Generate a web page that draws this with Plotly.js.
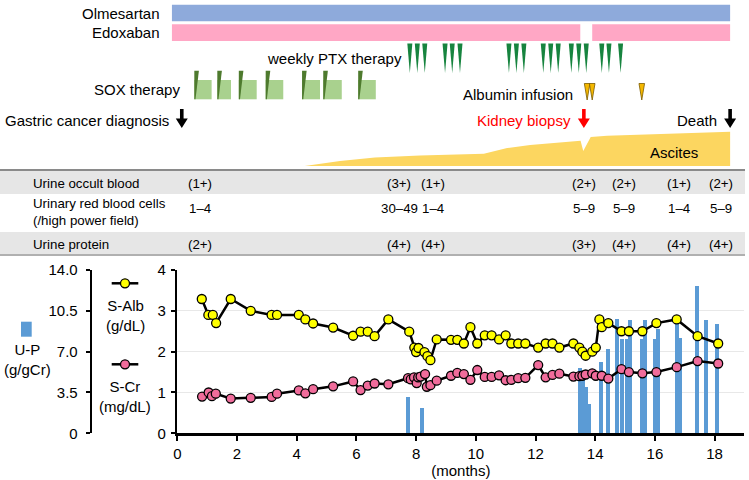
<!DOCTYPE html>
<html><head><meta charset="utf-8">
<script src="https://cdn.plot.ly/plotly-3.0.1.min.js"></script>
<style>body{margin:0;background:#fff}#chart{width:749px;height:480px}</style>
</head><body><div id="chart"></div>
<script>
// ---------------- data ----------------
const albMonths = [0.82,1.04,1.19,1.30,1.79,2.46,3.16,3.34,4.07,4.29,4.55,5.22,5.89,6.14,6.38,6.61,7.07,7.77,7.94,8.00,8.08,8.28,8.38,8.48,8.69,9.17,9.38,9.60,9.82,10.05,10.30,10.53,10.78,11.00,11.19,11.42,11.66,12.09,12.34,12.57,12.80,13.27,13.47,13.57,13.68,13.90,14.02,14.14,14.22,14.44,14.88,15.13,15.58,16.05,16.73,17.43,18.12];
const albValues = [3.29,2.90,2.90,2.70,3.29,3.00,2.90,2.90,2.90,2.79,2.69,2.59,2.39,2.49,2.49,2.38,2.79,2.49,2.10,1.99,2.09,1.99,1.89,1.79,2.30,2.29,2.29,2.20,2.60,2.20,2.40,2.40,2.30,2.40,2.20,2.20,2.20,2.10,2.20,2.20,2.10,2.20,2.10,2.00,1.90,2.00,2.10,2.79,2.60,2.70,2.50,2.50,2.50,2.70,2.79,2.38,2.20];
const crMonths = [0.83,1.05,1.16,1.29,1.79,2.46,3.16,3.34,4.07,4.29,4.55,5.22,5.89,6.14,6.38,6.61,7.07,7.73,7.82,7.93,8.02,8.07,8.15,8.30,8.36,8.48,8.69,9.17,9.38,9.60,9.82,10.05,10.30,10.53,10.78,11.00,11.19,11.42,11.66,12.09,12.34,12.57,12.80,13.27,13.47,13.57,13.68,13.90,14.02,14.22,14.44,14.88,15.13,15.58,16.05,16.73,17.43,18.12];
const crValues = [0.90,1.00,0.91,0.97,0.85,0.87,0.89,0.97,1.05,0.98,1.08,1.15,1.27,1.06,1.17,1.22,1.20,1.35,1.32,1.37,1.23,1.37,1.39,1.45,1.14,1.18,1.29,1.41,1.48,1.45,1.31,1.55,1.38,1.38,1.42,1.30,1.31,1.35,1.36,1.67,1.37,1.43,1.46,1.39,1.40,1.41,1.44,1.47,1.41,1.41,1.34,1.57,1.50,1.47,1.50,1.62,1.77,1.71];
const upMonths = [7.74,8.20,13.50,13.60,13.68,13.78,14.20,14.44,14.72,14.90,15.05,15.18,15.56,15.66,15.99,16.10,16.73,16.85,17.42,17.72,18.09];
const upValues = [3.1,2.2,5.6,4.7,4.0,2.5,6.1,7.2,9.8,8.1,8.1,9.7,8.1,9.7,8.1,8.9,9.4,8.2,12.6,9.7,9.4];

const olmesartanPeriods = [[-0.18,18.52]];
const edoxabanPeriods = [[-0.18,13.50],[13.90,18.52]];
const ptxDoses = [7.79,8.04,8.29,8.97,9.21,9.47,11.11,11.36,11.61,12.26,12.51,12.76,13.20,13.45,13.70,14.22,14.46,14.85];
const soxStarts = [0.57,1.34,2.06,2.96,4.18,4.89,6.06];
const soxEnds = [1.15,1.80,2.66,3.55,4.78,5.51,6.65];
const albuminInfusions = [13.73,13.90,15.56];
const ascitesMonths = [4.27,5.45,6.62,8.13,10.27,11.05,11.82,13.51,13.60,13.85,14.40,18.52,18.52];
const ascitesLevel = [0,5,8.5,10.5,12.3,18,21,25.3,15,29,30.3,34.3,0];
const eventLabels = ['Gastric cancer diagnosis','Kidney biopsy','Death'];
const eventMonths = [0.15,13.62,18.52];

const urineMonths = [0.76,7.43,8.56,13.62,14.96,16.80,18.20];
const occultBlood = ['(1+)','(3+)','(1+)','(2+)','(2+)','(1+)','(2+)'];
const urineRBC = ['1–4','30–49','1–4','5–9','5–9','1–4','5–9'];
const urineProtein = ['(2+)','(4+)','(4+)','(3+)','(4+)','(4+)','(4+)'];

const xTicks = [0,2,4,6,8,10,12,14,16,18];
const upTicks = [0,3.5,7,10.5,14];
const upTickText = ['0','3.5','7.0','10.5','14.0'];

// ---------------- layout constants ----------------
const W=749,H=480;
const X0=177.3, PXM=29.85, XMAX=19;
const px=x=>x/W, py=y=>1-y/H;
const FONT='Liberation Sans, Arial, sans-serif';
const BLACK='#000';

const traces = [];
traces.push({type:'bar', x:upMonths, y:upValues, xaxis:'x', yaxis:'y', width:0.13,
  marker:{color:'#5B9BD5', line:{width:0}}, hoverinfo:'x+y', showlegend:false});
traces.push({type:'scatter', mode:'lines+markers', x:albMonths, y:albValues, xaxis:'x', yaxis:'y2',
  line:{color:BLACK,width:2.5}, marker:{size:9,color:'#FFFF00',line:{color:BLACK,width:1.3}}, showlegend:false, cliponaxis:false});
traces.push({type:'scatter', mode:'lines+markers', x:crMonths, y:crValues, xaxis:'x', yaxis:'y2',
  line:{color:BLACK,width:2.5}, marker:{size:9,color:'#F06C9B',line:{color:BLACK,width:1.3}}, showlegend:false, cliponaxis:false});
traces.push({type:'scatter', mode:'lines', x:ascitesMonths, y:ascitesLevel, xaxis:'x2', yaxis:'y4',
  fill:'toself', fillcolor:'#FCD660', line:{width:0,color:'#FCD660',shape:'linear'}, showlegend:false, hoverinfo:'skip'});
traces.push({type:'scatter', mode:'markers', x:[null], y:[null], xaxis:'x2', yaxis:'y3', showlegend:false, hoverinfo:'skip'});

const shapes = [];
// table bands
shapes.push({type:'rect', xref:'paper', yref:'y3', x0:0, x1:px(745), y0:170, y1:194, fillcolor:'#E6E6E6', line:{width:0}, layer:'below'});
shapes.push({type:'rect', xref:'paper', yref:'y3', x0:0, x1:px(745), y0:232, y1:254.5, fillcolor:'#E6E6E6', line:{width:0}, layer:'below'});
shapes.push({type:'line', xref:'paper', yref:'y3', x0:0, x1:px(745), y0:170, y1:170, line:{color:'#8a8a8a', width:2}});
shapes.push({type:'line', xref:'paper', yref:'y3', x0:0, x1:px(745), y0:255, y1:255, line:{color:'#b0b0b0', width:2}});

// drug bars
olmesartanPeriods.forEach(p=>shapes.push({type:'rect', xref:'x2', yref:'y3', x0:p[0], x1:p[1], y0:4.7, y1:21.3, fillcolor:'#8EAADB', line:{width:0}}));
edoxabanPeriods.forEach(p=>shapes.push({type:'rect', xref:'x2', yref:'y3', x0:p[0], x1:p[1], y0:24.3, y1:41, fillcolor:'#FFA7C5', line:{width:0}}));
// SOX
soxStarts.forEach((s,i)=>{
  shapes.push({type:'rect', xref:'x2', yref:'y3', x0:s, x1:soxEnds[i], y0:80, y1:99.3, fillcolor:'#A9D18E', line:{width:0}});
  shapes.push({type:'path', xref:'x2', yref:'y3', xsizemode:'pixel', xanchor:s, path:'M0,70.7 L4.6,70.7 L1.2,99.3 L0,99.3 Z', fillcolor:'#4E7A2E', line:{width:0}});
});
// PTX
ptxDoses.forEach(d=>shapes.push({type:'path', xref:'x2', yref:'y3', xsizemode:'pixel', xanchor:d, path:'M-2.5,43.5 L2.5,43.5 L0,73 Z', fillcolor:'#17843F', line:{width:0}}));
// albumin
albuminInfusions.forEach(d=>shapes.push({type:'path', xref:'x2', yref:'y3', xsizemode:'pixel', xanchor:d, path:'M-2.8,83.5 L2.8,83.5 L0,100 Z', fillcolor:'#F5B800', line:{width:0.8,color:'#7a5a00'}}));
// event arrows
const eventColors = ['#000','#FF0000','#000'];
eventMonths.forEach((m,i)=>shapes.push({type:'path', xref:'x2', yref:'y3', xsizemode:'pixel', xanchor:m,
  path:'M-1.8,109 L1.8,109 L1.8,118.5 L6,118.5 L0,128 L-6,118.5 L-1.8,118.5 Z', fillcolor:eventColors[i], line:{width:0}}));

// legend samples
shapes.push({type:'rect', xref:'paper', yref:'paper', x0:px(21), x1:px(31.7), y0:py(336.7), y1:py(321.7), fillcolor:'#5B9BD5', line:{width:0}});
shapes.push({type:'line', xref:'paper', yref:'paper', x0:px(111.7), x1:px(138.3), y0:py(283.3), y1:py(283.3), line:{color:BLACK,width:2.5}});
shapes.push({type:'line', xref:'paper', yref:'paper', x0:px(111.7), x1:px(138.3), y0:py(364.3), y1:py(364.3), line:{color:BLACK,width:2.5}});
shapes.push({type:'circle', xref:'paper', yref:'paper', x0:px(120.5), x1:px(129.5), y0:py(287.8), y1:py(278.8), fillcolor:'#FFFF00', line:{color:BLACK,width:1.3}});
shapes.push({type:'circle', xref:'paper', yref:'paper', x0:px(120.5), x1:px(129.5), y0:py(368.8), y1:py(359.8), fillcolor:'#F06C9B', line:{color:BLACK,width:1.3}});

const ann = [];
const T=(text,x,y,opt={})=>ann.push(Object.assign({text, x:px(x), y:py(y), xref:'paper', yref:'paper', showarrow:false,
  font:{family:FONT,size:15,color:BLACK}, xanchor:'left', yanchor:'middle'}, opt));
T('Olmesartan',162,13,{xanchor:'right'});
T('Edoxaban',162,33,{xanchor:'right'});
T('weekly PTX therapy',265,58.5);
T('SOX therapy',182,89,{xanchor:'right'});
ann.push({text:'Albumin infusion', x:albuminInfusions[0], y:94, xref:'x2', yref:'y3', xanchor:'right', yanchor:'middle', xshift:-12, showarrow:false, font:{family:FONT,size:15,color:BLACK}});
eventLabels.forEach((l,i)=>ann.push({text:l, x:eventMonths[i], y:120, xref:'x2', yref:'y3', xanchor:'right', yanchor:'middle', xshift:-11, showarrow:false, font:{family:FONT,size:15,color:eventColors[i]}}));
T('Ascites',674,152,{xanchor:'center'});
// table
const TF={family:FONT,size:13.3,color:BLACK};
T('Urine occult blood',31,183,{font:TF});
T('Urinary red blood cells<br>(/high power field)',31,212,{font:TF, align:'left'});
T('Urine protein',31,244,{font:TF});
const rowY=[183,208.5,244];
[occultBlood,urineRBC,urineProtein].forEach((row,r)=>row.forEach((v,i)=>ann.push({text:v, x:urineMonths[i], y:rowY[r], xref:'x2', yref:'y3', xanchor:'center', yanchor:'middle', showarrow:false, font:TF})));
// legend text
T('U-P<br>(g/gCr)',27,359,{xanchor:'center', align:'center'});
T('S-Alb<br>(g/dL)',125,315,{xanchor:'center', align:'center'});
T('S-Cr<br>(mg/dL)',125,396,{xanchor:'center', align:'center'});

const layout = {
  width:W, height:H, margin:{l:0,r:0,t:0,b:0}, paper_bgcolor:'#fff', plot_bgcolor:'rgba(0,0,0,0)',
  font:{family:FONT, color:BLACK}, showlegend:false, bargap:0,
  xaxis:{domain:[px(X0), px(X0+XMAX*PXM)], range:[0,XMAX], anchor:'y', tickvals:xTicks, ticks:'outside', ticklen:5, tickwidth:2, tickcolor:BLACK,
    showline:true, linecolor:BLACK, linewidth:2.5, showgrid:false, zeroline:false, tickfont:{size:15,color:BLACK,family:FONT},
    title:{text:'(months)', font:{size:15,color:BLACK,family:FONT}, standoff:0}},
  yaxis:{domain:[py(433.3), py(270)], range:[0,14], anchor:'free', position:px(90.7), tickvals:upTicks, ticktext:upTickText,
    ticks:'outside', ticklen:4, tickwidth:2, tickcolor:BLACK, showline:true, linecolor:BLACK, linewidth:2.5, ticklabelstandoff:5,
    showgrid:true, gridcolor:'#E8E8E8', gridwidth:1, zeroline:false, tickfont:{size:15,color:BLACK,family:FONT}},
  yaxis2:{overlaying:'y', anchor:'x', side:'left', range:[0,4], dtick:1, ticks:'outside', ticklen:4, tickwidth:2, tickcolor:BLACK,
    showline:true, linecolor:BLACK, linewidth:2.5, showgrid:false, zeroline:false, ticklabelstandoff:2, tickfont:{size:15,color:BLACK,family:FONT}},
  xaxis2:{domain:[0,1], range:[-X0/PXM, (W-X0)/PXM], anchor:'y3', visible:false, fixedrange:true},
  yaxis3:{domain:[0,1], range:[H,0], anchor:'x2', visible:false, fixedrange:true},
  yaxis4:{domain:[py(166), py(130)], range:[0,36], anchor:'x2', visible:false, fixedrange:true},
  shapes, annotations:ann
};
Plotly.newPlot('chart', traces, layout, {staticPlot:true});
</script></body></html>
